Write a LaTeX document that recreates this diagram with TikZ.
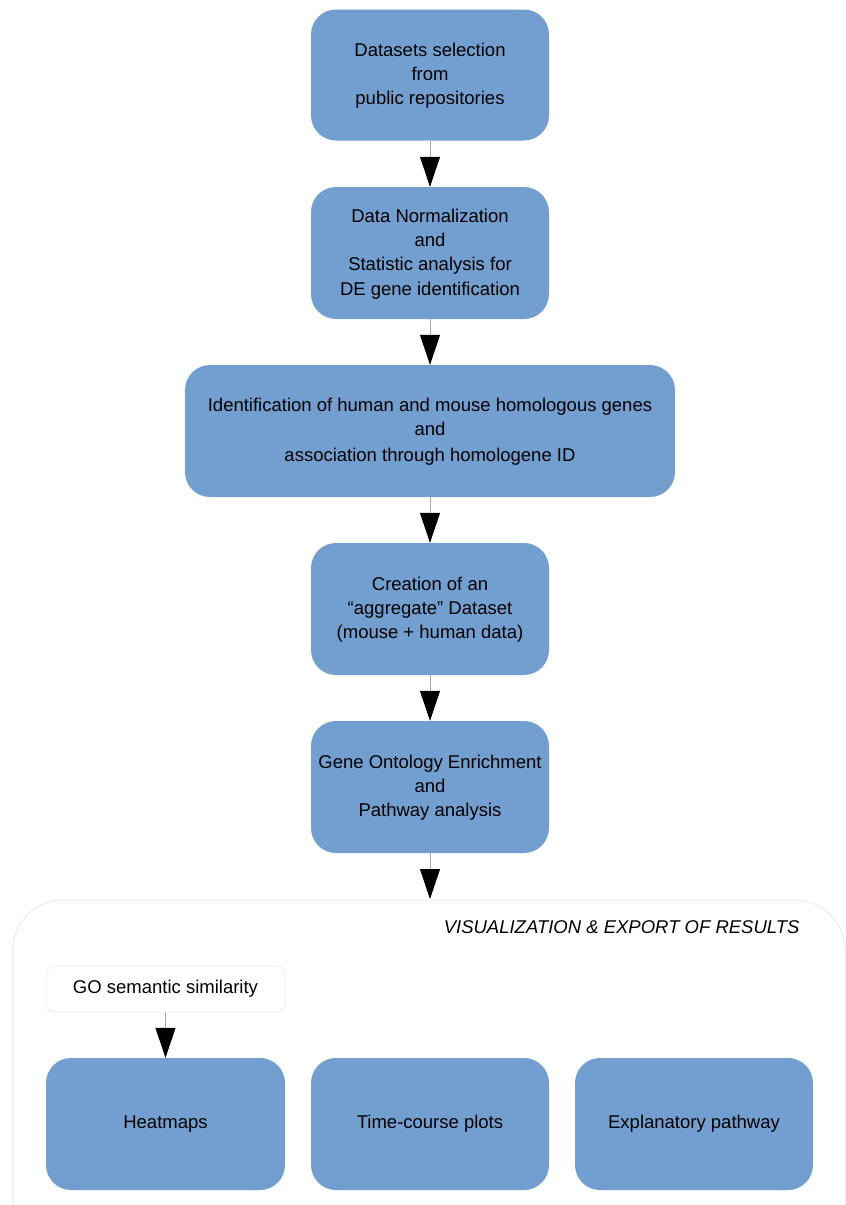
\documentclass[tikz,border=0pt]{standalone}
\usepackage{fontspec}
\setmainfont{Liberation Sans}
\usetikzlibrary{arrows.meta}
\definecolor{boxblue}{HTML}{729FCF}
\definecolor{lightedge}{HTML}{E6ECF3}
\definecolor{linegray}{HTML}{AAAAAA}
\begin{document}
\begin{tikzpicture}[x=1pt,y=-1pt,
  bluebox/.style={draw=none, fill=boxblue, rounded corners=25pt, align=center,
    font=\fontsize{18.5}{24.2}\selectfont, inner sep=0pt},
  whitebox/.style={draw=lightedge, line width=0.8pt, fill=white, rounded corners=8pt,
    align=center, font=\fontsize{18.5}{24}\selectfont, inner sep=0pt},
  flow/.style={draw=linegray, line width=0.8pt, -{Triangle[width=20pt,length=30pt,fill=black,color=black]}}
]
\useasboundingbox (0,0) rectangle (846,1205);
\fill[white] (0,0) rectangle (846,1205);
\begin{scope}
\clip (0,0) rectangle (846,1205);
\draw[lightedge, line width=1pt, rounded corners=50pt] (13,900) rectangle (845,1260);
\end{scope}

\node[bluebox, minimum width=238pt, minimum height=131pt, text depth=2pt] (b1) at (430,75)
  {Datasets selection\\from\\ public repositories};
\node[bluebox, minimum width=238pt, minimum height=132pt, text depth=2pt] (b2) at (430,253)
  {Data Normalization\\and\\Statistic analysis for\\DE gene identification};
\node[bluebox, minimum width=490pt, minimum height=132pt, text depth=2pt] (b3) at (430,431)
  {Identification of human and mouse homologous genes\\and\\[2pt]association through homologene ID};
\node[bluebox, minimum width=238pt, minimum height=132pt, text depth=2pt] (b4) at (430,609)
  {Creation of an\\``aggregate'' Dataset\\(mouse + human data)};
\node[bluebox, minimum width=238pt, minimum height=132pt, text depth=2pt] (b5) at (430,787)
  {Gene Ontology Enrichment\\and\\Pathway analysis};
\coordinate (ctop) at (430,899);

\node[anchor=east, font=\fontsize{18.5}{24}\selectfont\itshape] (title) at (803,927)
  {VISUALIZATION \& EXPORT OF RESULTS};

\node[whitebox, minimum width=239pt, minimum height=46pt] (go) at (165.5,989)
  {GO semantic similarity};

\node[bluebox, minimum width=239pt, minimum height=132pt] (h) at (165.5,1124) {Heatmaps};
\node[bluebox, minimum width=238pt, minimum height=132pt] (t) at (430,1124) {Time-course plots};
\node[bluebox, minimum width=238pt, minimum height=132pt] (e) at (694,1124) {Explanatory pathway};

\draw[flow] (b1.south) -- (b2.north);
\draw[flow] (b2.south) -- (b3.north);
\draw[flow] (b3.south) -- (b4.north);
\draw[flow] (b4.south) -- (b5.north);
\draw[flow] (b5.south) -- (ctop);
\draw[flow] (go.south) -- (h.north);
\end{tikzpicture}
\end{document}
